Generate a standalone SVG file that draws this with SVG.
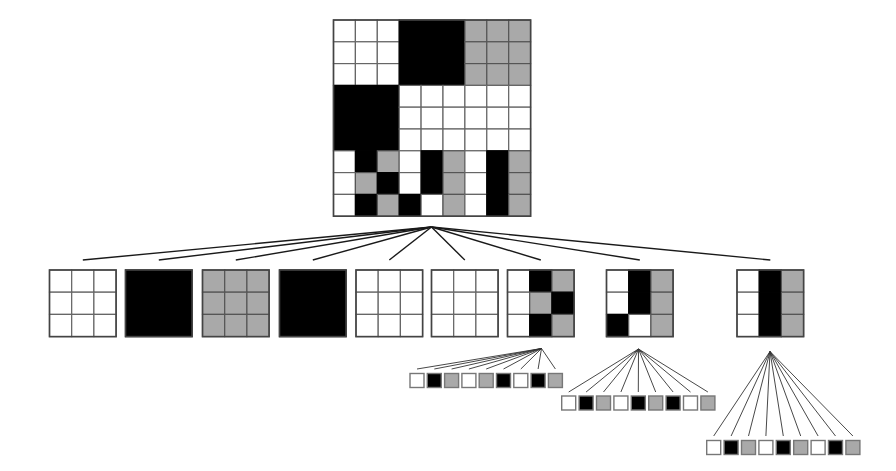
<svg xmlns="http://www.w3.org/2000/svg" width="896" height="471" viewBox="0 0 896 471">
<style>
.w{fill:#fff;stroke:#666;stroke-width:1.2}
.g{fill:#a9a9a9;stroke:#555;stroke-width:1.2}
.b{fill:#000;stroke:#000;stroke-width:1.2}
.frame{fill:none;stroke:#444;stroke-width:1.6}
.cw{fill:#fff;stroke:#777;stroke-width:1.4}
.cg{fill:#a9a9a9;stroke:#777;stroke-width:1.4}
.cb{fill:#000;stroke:#777;stroke-width:1.4}
.main line{stroke:#1a1a1a;stroke-width:1.4}
.sub line{stroke:#333;stroke-width:0.9}
</style>
<rect width="896" height="471" fill="#fff"/>
<g id="connectors">
<g class="main">
<line x1="431.5" y1="227" x2="82.8" y2="260"/>
<line x1="431.5" y1="227" x2="158.8" y2="260"/>
<line x1="431.5" y1="227" x2="235.8" y2="260"/>
<line x1="431.5" y1="227" x2="312.8" y2="260"/>
<line x1="431.5" y1="227" x2="389.3" y2="260"/>
<line x1="431.5" y1="227" x2="464.8" y2="260"/>
<line x1="431.5" y1="227" x2="540.8" y2="260"/>
<line x1="431.5" y1="227" x2="639.8" y2="260"/>
<line x1="431.5" y1="227" x2="770.3" y2="260"/>
</g>
<g class="sub">
<line x1="541.5" y1="348.5" x2="417" y2="369"/>
<line x1="541.5" y1="348.5" x2="434.3" y2="369"/>
<line x1="541.5" y1="348.5" x2="451.6" y2="369"/>
<line x1="541.5" y1="348.5" x2="468.9" y2="369"/>
<line x1="541.5" y1="348.5" x2="486.2" y2="369"/>
<line x1="541.5" y1="348.5" x2="503.5" y2="369"/>
<line x1="541.5" y1="348.5" x2="520.8" y2="369"/>
<line x1="541.5" y1="348.5" x2="538.1" y2="369"/>
<line x1="541.5" y1="348.5" x2="555.4" y2="369"/>
<line x1="638.5" y1="349" x2="568.7" y2="392"/>
<line x1="638.5" y1="349" x2="586.1" y2="392"/>
<line x1="638.5" y1="349" x2="603.5" y2="392"/>
<line x1="638.5" y1="349" x2="620.9" y2="392"/>
<line x1="638.5" y1="349" x2="638.3" y2="392"/>
<line x1="638.5" y1="349" x2="655.7" y2="392"/>
<line x1="638.5" y1="349" x2="673.1" y2="392"/>
<line x1="638.5" y1="349" x2="690.5" y2="392"/>
<line x1="638.5" y1="349" x2="707.9" y2="392"/>
<line x1="770" y1="351.5" x2="713.7" y2="436"/>
<line x1="770" y1="351.5" x2="731.1" y2="436"/>
<line x1="770" y1="351.5" x2="748.5" y2="436"/>
<line x1="770" y1="351.5" x2="765.9" y2="436"/>
<line x1="770" y1="351.5" x2="783.3" y2="436"/>
<line x1="770" y1="351.5" x2="800.7" y2="436"/>
<line x1="770" y1="351.5" x2="818.1" y2="436"/>
<line x1="770" y1="351.5" x2="835.5" y2="436"/>
<line x1="770" y1="351.5" x2="852.9" y2="436"/>
</g>
</g>
<g id="root" transform="translate(333.5,20)">
<rect class="w" x="0" y="0" width="21.9" height="21.8"/><rect class="w" x="21.9" y="0" width="21.9" height="21.8"/><rect class="w" x="43.8" y="0" width="21.9" height="21.8"/>
<rect class="w" x="0" y="21.8" width="21.9" height="21.8"/><rect class="w" x="21.9" y="21.8" width="21.9" height="21.8"/><rect class="w" x="43.8" y="21.8" width="21.9" height="21.8"/>
<rect class="w" x="0" y="43.6" width="21.9" height="21.8"/><rect class="w" x="21.9" y="43.6" width="21.9" height="21.8"/><rect class="w" x="43.8" y="43.6" width="21.9" height="21.8"/>
<rect class="b" x="65.7" y="0" width="65.7" height="65.4"/>
<rect class="g" x="131.4" y="0" width="21.9" height="21.8"/><rect class="g" x="153.3" y="0" width="21.9" height="21.8"/><rect class="g" x="175.2" y="0" width="21.9" height="21.8"/>
<rect class="g" x="131.4" y="21.8" width="21.9" height="21.8"/><rect class="g" x="153.3" y="21.8" width="21.9" height="21.8"/><rect class="g" x="175.2" y="21.8" width="21.9" height="21.8"/>
<rect class="g" x="131.4" y="43.6" width="21.9" height="21.8"/><rect class="g" x="153.3" y="43.6" width="21.9" height="21.8"/><rect class="g" x="175.2" y="43.6" width="21.9" height="21.8"/>
<rect class="b" x="0" y="65.4" width="65.7" height="65.4"/>
<rect class="w" x="65.7" y="65.4" width="21.9" height="21.8"/><rect class="w" x="87.6" y="65.4" width="21.9" height="21.8"/><rect class="w" x="109.5" y="65.4" width="21.9" height="21.8"/><rect class="w" x="131.4" y="65.4" width="21.9" height="21.8"/><rect class="w" x="153.3" y="65.4" width="21.9" height="21.8"/><rect class="w" x="175.2" y="65.4" width="21.9" height="21.8"/>
<rect class="w" x="65.7" y="87.2" width="21.9" height="21.8"/><rect class="w" x="87.6" y="87.2" width="21.9" height="21.8"/><rect class="w" x="109.5" y="87.2" width="21.9" height="21.8"/><rect class="w" x="131.4" y="87.2" width="21.9" height="21.8"/><rect class="w" x="153.3" y="87.2" width="21.9" height="21.8"/><rect class="w" x="175.2" y="87.2" width="21.9" height="21.8"/>
<rect class="w" x="65.7" y="109" width="21.9" height="21.8"/><rect class="w" x="87.6" y="109" width="21.9" height="21.8"/><rect class="w" x="109.5" y="109" width="21.9" height="21.8"/><rect class="w" x="131.4" y="109" width="21.9" height="21.8"/><rect class="w" x="153.3" y="109" width="21.9" height="21.8"/><rect class="w" x="175.2" y="109" width="21.9" height="21.8"/>
<rect class="w" x="0" y="130.8" width="21.9" height="21.8"/><rect class="b" x="21.9" y="130.8" width="21.9" height="21.8"/><rect class="g" x="43.8" y="130.8" width="21.9" height="21.8"/><rect class="w" x="65.7" y="130.8" width="21.9" height="21.8"/><rect class="b" x="87.6" y="130.8" width="21.9" height="21.8"/><rect class="g" x="109.5" y="130.8" width="21.9" height="21.8"/><rect class="w" x="131.4" y="130.8" width="21.9" height="21.8"/><rect class="b" x="153.3" y="130.8" width="21.9" height="21.8"/><rect class="g" x="175.2" y="130.8" width="21.9" height="21.8"/>
<rect class="w" x="0" y="152.6" width="21.9" height="21.8"/><rect class="g" x="21.9" y="152.6" width="21.9" height="21.8"/><rect class="b" x="43.8" y="152.6" width="21.9" height="21.8"/><rect class="w" x="65.7" y="152.6" width="21.9" height="21.8"/><rect class="b" x="87.6" y="152.6" width="21.9" height="21.8"/><rect class="g" x="109.5" y="152.6" width="21.9" height="21.8"/><rect class="w" x="131.4" y="152.6" width="21.9" height="21.8"/><rect class="b" x="153.3" y="152.6" width="21.9" height="21.8"/><rect class="g" x="175.2" y="152.6" width="21.9" height="21.8"/>
<rect class="w" x="0" y="174.4" width="21.9" height="21.8"/><rect class="b" x="21.9" y="174.4" width="21.9" height="21.8"/><rect class="g" x="43.8" y="174.4" width="21.9" height="21.8"/><rect class="b" x="65.7" y="174.4" width="21.9" height="21.8"/><rect class="w" x="87.6" y="174.4" width="21.9" height="21.8"/><rect class="g" x="109.5" y="174.4" width="21.9" height="21.8"/><rect class="w" x="131.4" y="174.4" width="21.9" height="21.8"/><rect class="b" x="153.3" y="174.4" width="21.9" height="21.8"/><rect class="g" x="175.2" y="174.4" width="21.9" height="21.8"/>
<rect class="frame" x="0" y="0" width="197.1" height="196.2"/>
</g>
<g id="block1" transform="translate(49.5,270)">
<rect class="w" x="0" y="0" width="22.2" height="22.2"/><rect class="w" x="22.2" y="0" width="22.2" height="22.2"/><rect class="w" x="44.4" y="0" width="22.2" height="22.2"/>
<rect class="w" x="0" y="22.2" width="22.2" height="22.2"/><rect class="w" x="22.2" y="22.2" width="22.2" height="22.2"/><rect class="w" x="44.4" y="22.2" width="22.2" height="22.2"/>
<rect class="w" x="0" y="44.4" width="22.2" height="22.2"/><rect class="w" x="22.2" y="44.4" width="22.2" height="22.2"/><rect class="w" x="44.4" y="44.4" width="22.2" height="22.2"/>
<rect class="frame" x="0" y="0" width="66.6" height="66.6"/>
</g>
<g id="block2" transform="translate(125.5,270)">
<rect class="b" x="0" y="0" width="66.6" height="66.6"/>
<rect class="frame" x="0" y="0" width="66.6" height="66.6"/>
</g>
<g id="block3" transform="translate(202.5,270)">
<rect class="g" x="0" y="0" width="22.2" height="22.2"/><rect class="g" x="22.2" y="0" width="22.2" height="22.2"/><rect class="g" x="44.4" y="0" width="22.2" height="22.2"/>
<rect class="g" x="0" y="22.2" width="22.2" height="22.2"/><rect class="g" x="22.2" y="22.2" width="22.2" height="22.2"/><rect class="g" x="44.4" y="22.2" width="22.2" height="22.2"/>
<rect class="g" x="0" y="44.4" width="22.2" height="22.2"/><rect class="g" x="22.2" y="44.4" width="22.2" height="22.2"/><rect class="g" x="44.4" y="44.4" width="22.2" height="22.2"/>
<rect class="frame" x="0" y="0" width="66.6" height="66.6"/>
</g>
<g id="block4" transform="translate(279.5,270)">
<rect class="b" x="0" y="0" width="66.6" height="66.6"/>
<rect class="frame" x="0" y="0" width="66.6" height="66.6"/>
</g>
<g id="block5" transform="translate(356,270)">
<rect class="w" x="0" y="0" width="22.2" height="22.2"/><rect class="w" x="22.2" y="0" width="22.2" height="22.2"/><rect class="w" x="44.4" y="0" width="22.2" height="22.2"/>
<rect class="w" x="0" y="22.2" width="22.2" height="22.2"/><rect class="w" x="22.2" y="22.2" width="22.2" height="22.2"/><rect class="w" x="44.4" y="22.2" width="22.2" height="22.2"/>
<rect class="w" x="0" y="44.4" width="22.2" height="22.2"/><rect class="w" x="22.2" y="44.4" width="22.2" height="22.2"/><rect class="w" x="44.4" y="44.4" width="22.2" height="22.2"/>
<rect class="frame" x="0" y="0" width="66.6" height="66.6"/>
</g>
<g id="block6" transform="translate(431.5,270)">
<rect class="w" x="0" y="0" width="22.2" height="22.2"/><rect class="w" x="22.2" y="0" width="22.2" height="22.2"/><rect class="w" x="44.4" y="0" width="22.2" height="22.2"/>
<rect class="w" x="0" y="22.2" width="22.2" height="22.2"/><rect class="w" x="22.2" y="22.2" width="22.2" height="22.2"/><rect class="w" x="44.4" y="22.2" width="22.2" height="22.2"/>
<rect class="w" x="0" y="44.4" width="22.2" height="22.2"/><rect class="w" x="22.2" y="44.4" width="22.2" height="22.2"/><rect class="w" x="44.4" y="44.4" width="22.2" height="22.2"/>
<rect class="frame" x="0" y="0" width="66.6" height="66.6"/>
</g>
<g id="block7" transform="translate(507.5,270)">
<rect class="w" x="0" y="0" width="22.2" height="22.2"/><rect class="b" x="22.2" y="0" width="22.2" height="22.2"/><rect class="g" x="44.4" y="0" width="22.2" height="22.2"/>
<rect class="w" x="0" y="22.2" width="22.2" height="22.2"/><rect class="g" x="22.2" y="22.2" width="22.2" height="22.2"/><rect class="b" x="44.4" y="22.2" width="22.2" height="22.2"/>
<rect class="w" x="0" y="44.4" width="22.2" height="22.2"/><rect class="b" x="22.2" y="44.4" width="22.2" height="22.2"/><rect class="g" x="44.4" y="44.4" width="22.2" height="22.2"/>
<rect class="frame" x="0" y="0" width="66.6" height="66.6"/>
</g>
<g id="block8" transform="translate(606.5,270)">
<rect class="w" x="0" y="0" width="22.2" height="22.2"/><rect class="b" x="22.2" y="0" width="22.2" height="22.2"/><rect class="g" x="44.4" y="0" width="22.2" height="22.2"/>
<rect class="w" x="0" y="22.2" width="22.2" height="22.2"/><rect class="b" x="22.2" y="22.2" width="22.2" height="22.2"/><rect class="g" x="44.4" y="22.2" width="22.2" height="22.2"/>
<rect class="b" x="0" y="44.4" width="22.2" height="22.2"/><rect class="w" x="22.2" y="44.4" width="22.2" height="22.2"/><rect class="g" x="44.4" y="44.4" width="22.2" height="22.2"/>
<rect class="frame" x="0" y="0" width="66.6" height="66.6"/>
</g>
<g id="block9" transform="translate(737,270)">
<rect class="w" x="0" y="0" width="22.2" height="22.2"/><rect class="b" x="22.2" y="0" width="22.2" height="22.2"/><rect class="g" x="44.4" y="0" width="22.2" height="22.2"/>
<rect class="w" x="0" y="22.2" width="22.2" height="22.2"/><rect class="b" x="22.2" y="22.2" width="22.2" height="22.2"/><rect class="g" x="44.4" y="22.2" width="22.2" height="22.2"/>
<rect class="w" x="0" y="44.4" width="22.2" height="22.2"/><rect class="b" x="22.2" y="44.4" width="22.2" height="22.2"/><rect class="g" x="44.4" y="44.4" width="22.2" height="22.2"/>
<rect class="frame" x="0" y="0" width="66.6" height="66.6"/>
</g>
<g id="leaves7">
<rect class="cw" x="410" y="373.5" width="14" height="14"/>
<rect class="cb" x="427.3" y="373.5" width="14" height="14"/>
<rect class="cg" x="444.6" y="373.5" width="14" height="14"/>
<rect class="cw" x="461.9" y="373.5" width="14" height="14"/>
<rect class="cg" x="479.2" y="373.5" width="14" height="14"/>
<rect class="cb" x="496.5" y="373.5" width="14" height="14"/>
<rect class="cw" x="513.8" y="373.5" width="14" height="14"/>
<rect class="cb" x="531.1" y="373.5" width="14" height="14"/>
<rect class="cg" x="548.4" y="373.5" width="14" height="14"/>
</g>
<g id="leaves8">
<rect class="cw" x="561.7" y="396" width="14" height="14"/>
<rect class="cb" x="579.1" y="396" width="14" height="14"/>
<rect class="cg" x="596.5" y="396" width="14" height="14"/>
<rect class="cw" x="613.9" y="396" width="14" height="14"/>
<rect class="cb" x="631.3" y="396" width="14" height="14"/>
<rect class="cg" x="648.7" y="396" width="14" height="14"/>
<rect class="cb" x="666.1" y="396" width="14" height="14"/>
<rect class="cw" x="683.5" y="396" width="14" height="14"/>
<rect class="cg" x="700.9" y="396" width="14" height="14"/>
</g>
<g id="leaves9">
<rect class="cw" x="706.7" y="440.5" width="14" height="14"/>
<rect class="cb" x="724.1" y="440.5" width="14" height="14"/>
<rect class="cg" x="741.5" y="440.5" width="14" height="14"/>
<rect class="cw" x="758.9" y="440.5" width="14" height="14"/>
<rect class="cb" x="776.3" y="440.5" width="14" height="14"/>
<rect class="cg" x="793.7" y="440.5" width="14" height="14"/>
<rect class="cw" x="811.1" y="440.5" width="14" height="14"/>
<rect class="cb" x="828.5" y="440.5" width="14" height="14"/>
<rect class="cg" x="845.9" y="440.5" width="14" height="14"/>
</g>
</svg>
